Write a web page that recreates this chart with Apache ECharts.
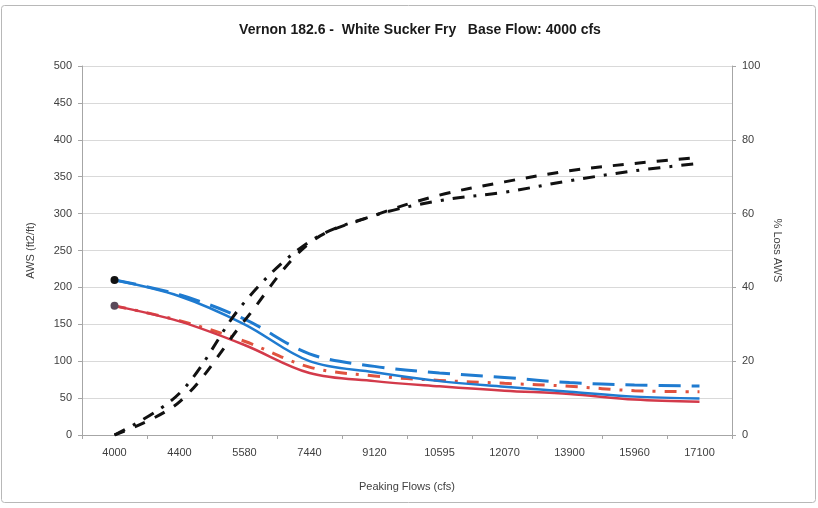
<!DOCTYPE html>
<html>
<head>
<meta charset="utf-8">
<script src="https://cdn.jsdelivr.net/npm/echarts@6/dist/echarts.min.js"></script>
<style>
html,body{margin:0;padding:0;background:#fff;}
#c{width:818px;height:508px;}
</style>
</head>
<body>
<div id="c"></div>
<script>
var categories = ['4000','4400','5580','7440','9120','10595','12070','13900','15960','17100'];
var awsBlueSolid  = [210, 188, 150, 100, 85, 73, 65.5, 58.7, 52, 49.6];
var awsBlueDashed = [210, 190, 157, 110, 93, 84, 78, 71, 67.8, 66.4];
var awsRedSolid   = [175, 154, 122, 84, 73, 66, 60, 55.6, 48, 45];
var awsRedDashDot = [175, 155, 127, 92, 80, 74, 70, 66, 60, 58.7];
var lossDashed    = [0, 9, 31, 52, 59.5, 65, 68.6, 71.6, 73.6, 75.2];
var lossDashDot   = [0, 11.3, 36, 52.4, 59.5, 63.5, 65.8, 68.9, 71.6, 73.6];

var titleText = 'Vernon 182.6 -  White Sucker Fry   Base Flow: 4000 cfs';
var font = 'Liberation Sans, Arial, sans-serif';

function withStart(arr, color) {
  return arr.map(function (v, i) {
    if (i === 0) return {value: v, symbol: 'circle', symbolSize: 8, itemStyle: {color: color}};
    return v;
  });
}

var chart = echarts.init(document.getElementById('c'), null, {renderer: 'canvas'});
chart.setOption({
  animation: false,
  backgroundColor: '#fff',
  title: {
    text: titleText, left: 415, top: 18, textAlign: 'center',
    textStyle: {fontFamily: font, fontSize: 14, fontWeight: 'bold', color: '#1a1a1a'}
  },
  graphic: [{
    type: 'rect', silent: true,
    shape: {x: 1.5, y: 5.5, width: 814, height: 497, r: 3},
    style: {fill: 'none', stroke: '#b8b8b8', lineWidth: 1}
  }],
  grid: {left: 82, right: 86, top: 66, bottom: 73, containLabel: false},
  xAxis: {
    type: 'category', data: categories, boundaryGap: true,
    name: 'Peaking Flows (cfs)', nameLocation: 'middle', nameGap: 46,
    nameTextStyle: {fontFamily: font, fontSize: 11, color: '#404040'},
    axisLine: {lineStyle: {color: '#a6a6a6'}},
    axisTick: {show: true, lineStyle: {color: '#a6a6a6'}, length: 4},
    axisLabel: {fontFamily: font, fontSize: 11, color: '#404040', margin: 12}
  },
  yAxis: [{
    type: 'value', min: 0, max: 500, interval: 50,
    name: 'AWS (ft2/ft)', nameLocation: 'middle', nameGap: 46, nameRotate: 90,
    nameTextStyle: {fontFamily: font, fontSize: 11, color: '#404040'},
    axisLine: {show: true, lineStyle: {color: '#a6a6a6'}},
    axisTick: {show: true, length: 4, lineStyle: {color: '#a6a6a6'}},
    axisLabel: {fontFamily: font, fontSize: 11, color: '#404040', margin: 10},
    splitLine: {show: true, lineStyle: {color: '#d9d9d9', width: 1}}
  }, {
    type: 'value', min: 0, max: 100, interval: 20, position: 'right',
    name: '% Loss AWS', nameLocation: 'middle', nameGap: 38, nameRotate: -90,
    nameTextStyle: {fontFamily: font, fontSize: 11, color: '#404040'},
    axisLine: {show: true, lineStyle: {color: '#a6a6a6'}},
    axisTick: {show: true, length: 4, lineStyle: {color: '#a6a6a6'}},
    axisLabel: {fontFamily: font, fontSize: 11, color: '#404040', margin: 10},
    splitLine: {show: false}
  }],
  series: [
    {name: 'Blue dashed', type: 'line', yAxisIndex: 0, data: awsBlueDashed, smooth: 0.35,
     showSymbol: false, symbol: 'none',
     lineStyle: {color: '#1f7bd0', width: 3, type: [22, 11]}},
    {name: 'Red dash-dot', type: 'line', yAxisIndex: 0, data: awsRedDashDot, smooth: 0.35,
     showSymbol: false, symbol: 'none',
     lineStyle: {color: '#e0523e', width: 3, type: [12, 9, 3, 9]}},
    {name: 'Red solid', type: 'line', yAxisIndex: 0, data: withStart(awsRedSolid, '#5a4a5a'), smooth: 0.35,
     symbol: 'none', showSymbol: true,
     lineStyle: {color: '#d33a4a', width: 2.5}},
    {name: 'Blue solid', type: 'line', yAxisIndex: 0, data: withStart(awsBlueSolid, '#111'), smooth: 0.35,
     symbol: 'none', showSymbol: true,
     lineStyle: {color: '#1f7bd0', width: 2.5}},
    {name: 'Loss dashed', type: 'line', yAxisIndex: 1, data: lossDashed, smooth: 0.35,
     showSymbol: false, symbol: 'none',
     lineStyle: {color: '#111', width: 3, type: [11, 11]}},
    {name: 'Loss dash-dot', type: 'line', yAxisIndex: 1, data: lossDashDot, smooth: 0.35,
     showSymbol: false, symbol: 'none',
     lineStyle: {color: '#111', width: 3, type: [12, 9, 3, 9]}}
  ]
});
</script>
</body>
</html>
